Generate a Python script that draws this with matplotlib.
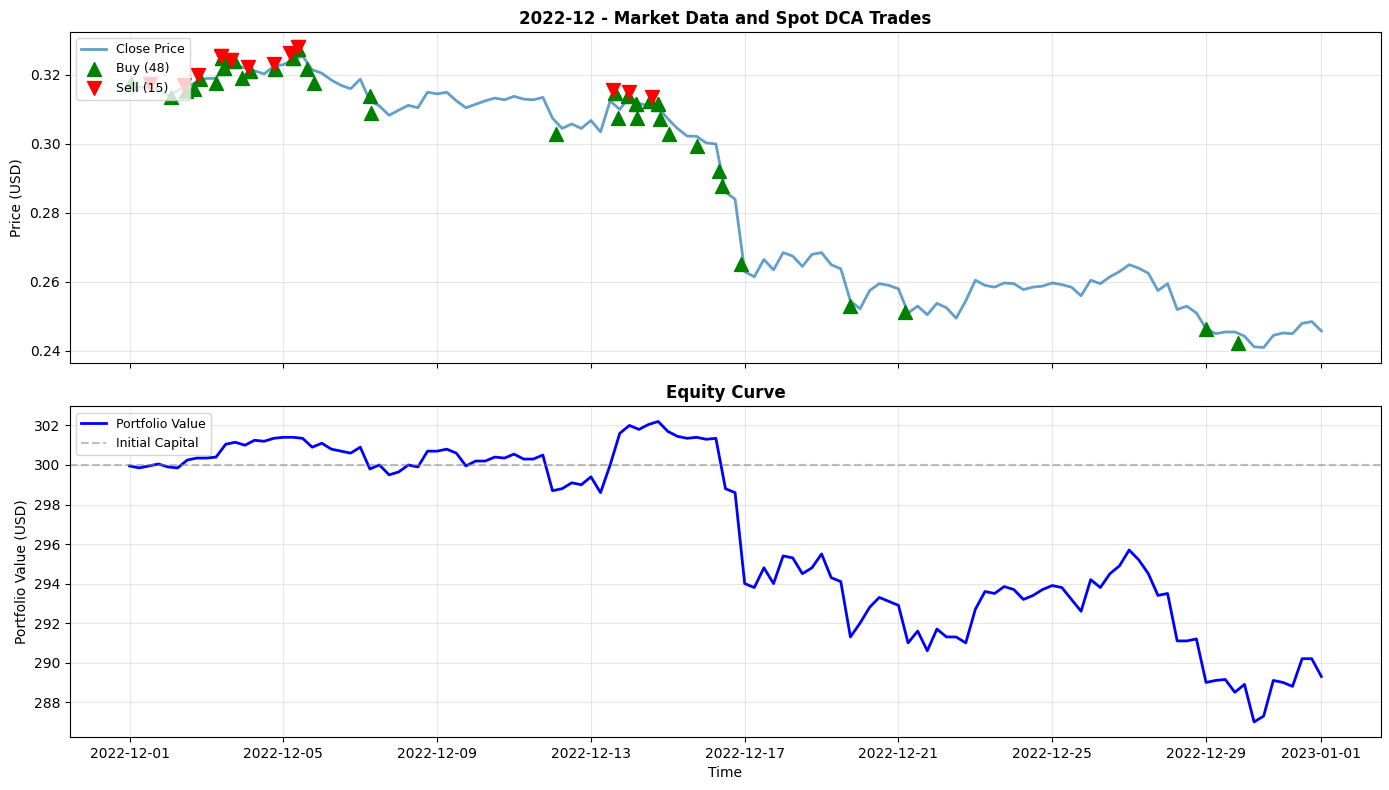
import numpy as np
import pandas as pd
import matplotlib
matplotlib.use('Agg')
import matplotlib.pyplot as plt
import matplotlib.dates as mdates

# close price, sampled every 6 hours from 2022-12-01 00:00
close_price = [
    0.3170, 0.3165, 0.3163, 0.3160, 0.3140, 0.3155, 0.3165, 0.3180, 0.3190, 0.3190,
    0.3240, 0.3230, 0.3220, 0.3212, 0.3203, 0.3225, 0.3230, 0.3245, 0.3255, 0.3215,
    0.3205, 0.3185, 0.3170, 0.3160, 0.3188, 0.3125, 0.3110, 0.3083, 0.3098, 0.3112,
    0.3105, 0.3150, 0.3145, 0.3150, 0.3125, 0.3105, 0.3115, 0.3125, 0.3133, 0.3128,
    0.3138, 0.3130, 0.3128, 0.3135, 0.3075, 0.3045, 0.3058, 0.3045, 0.3068, 0.3035,
    0.3125, 0.3100, 0.3137, 0.3118, 0.3110, 0.3105, 0.3073, 0.3045, 0.3023, 0.3022,
    0.3003, 0.3000, 0.2860, 0.2840, 0.2630, 0.2615, 0.2665, 0.2635, 0.2685, 0.2675,
    0.2645, 0.2680, 0.2685, 0.2650, 0.2638, 0.2545, 0.2522, 0.2575, 0.2595, 0.2590,
    0.2580, 0.2510, 0.2530, 0.2505, 0.2538, 0.2525, 0.2495, 0.2545, 0.2605, 0.2590,
    0.2585, 0.2597, 0.2595, 0.2578, 0.2585, 0.2588, 0.2597, 0.2592, 0.2585, 0.2560,
    0.2605, 0.2595, 0.2615, 0.2630, 0.2650, 0.2640, 0.2625, 0.2575, 0.2595, 0.2520,
    0.2530, 0.2510, 0.2465, 0.2450, 0.2455, 0.2455, 0.2443, 0.2412, 0.2410, 0.2445,
    0.2452, 0.2450, 0.2480, 0.2485, 0.2458,
]

# portfolio value, same 6-hour grid
portfolio_value = [
    299.95, 299.85, 299.95, 300.05, 299.90, 299.85, 300.25, 300.35, 300.35, 300.40,
    301.05, 301.15, 301.00, 301.25, 301.20, 301.35, 301.40, 301.40, 301.35, 300.90,
    301.10, 300.80, 300.70, 300.60, 300.90, 299.80, 300.00, 299.50, 299.65, 300.00,
    299.90, 300.70, 300.70, 300.80, 300.60, 299.95, 300.20, 300.20, 300.40, 300.35,
    300.55, 300.30, 300.30, 300.50, 298.70, 298.80, 299.10, 299.00, 299.40, 298.60,
    300.00, 301.60, 302.00, 301.80, 302.05, 302.20, 301.70, 301.45, 301.35, 301.40,
    301.30, 301.35, 298.80, 298.60, 294.00, 293.80, 294.80, 294.00, 295.40, 295.30,
    294.50, 294.80, 295.50, 294.30, 294.10, 291.30, 292.00, 292.80, 293.30, 293.10,
    292.90, 291.00, 291.60, 290.60, 291.70, 291.30, 291.30, 291.00, 292.70, 293.60,
    293.50, 293.85, 293.70, 293.20, 293.40, 293.70, 293.90, 293.80, 293.20, 292.60,
    294.20, 293.80, 294.50, 294.90, 295.70, 295.20, 294.50, 293.40, 293.50, 291.10,
    291.10, 291.20, 289.00, 289.10, 289.15, 288.50, 288.90, 287.00, 287.30, 289.10,
    289.00, 288.80, 290.20, 290.20, 289.30,
]

buy_times = [
    '2022-12-01 01:00', '2022-12-02 02:00', '2022-12-02 11:00', '2022-12-02 16:00',
    '2022-12-02 20:00', '2022-12-03 06:00', '2022-12-03 10:00', '2022-12-03 11:00',
    '2022-12-03 17:00', '2022-12-03 22:00', '2022-12-04 03:00', '2022-12-04 19:00',
    '2022-12-05 06:00', '2022-12-05 09:00', '2022-12-05 15:00', '2022-12-05 19:00',
    '2022-12-07 06:00', '2022-12-07 07:00', '2022-12-12 02:00', '2022-12-13 15:00',
    '2022-12-13 17:00', '2022-12-13 23:00', '2022-12-14 04:00', '2022-12-14 05:00',
    '2022-12-14 13:00', '2022-12-14 18:00', '2022-12-14 19:00', '2022-12-15 01:00',
    '2022-12-15 18:00', '2022-12-16 08:00', '2022-12-16 10:00', '2022-12-16 22:00',
    '2022-12-19 18:00', '2022-12-21 04:00', '2022-12-29 00:00', '2022-12-29 20:00',
    '2022-12-03 10:00', '2022-12-03 11:00', '2022-12-03 17:00', '2022-12-04 03:00',
    '2022-12-04 19:00', '2022-12-05 06:00', '2022-12-05 09:00', '2022-12-13 15:00',
    '2022-12-13 23:00', '2022-12-14 04:00', '2022-12-14 13:00', '2022-12-14 18:00',
]
buy_prices = [
    0.3177, 0.3136, 0.3154, 0.3159, 0.3188, 0.3177, 0.3249, 0.3220,
    0.3241, 0.3191, 0.3212, 0.3217, 0.3249, 0.3275, 0.3217, 0.3177,
    0.3139, 0.3090, 0.3029, 0.3148, 0.3075, 0.3139, 0.3116, 0.3075,
    0.3125, 0.3116, 0.3072, 0.3029, 0.2994, 0.2922, 0.2878, 0.2652,
    0.2530, 0.2513, 0.2464, 0.2423,
    0.3249, 0.3220, 0.3241, 0.3212, 0.3217, 0.3249, 0.3275, 0.3148,
    0.3139, 0.3116, 0.3125, 0.3116,
]

sell_times = [
    '2022-12-01 13:00', '2022-12-02 10:00', '2022-12-02 19:00', '2022-12-03 09:00',
    '2022-12-03 15:00', '2022-12-04 02:00', '2022-12-04 18:00', '2022-12-05 04:00',
    '2022-12-05 09:00', '2022-12-13 14:00', '2022-12-14 00:00', '2022-12-14 14:00',
    '2022-12-03 09:00', '2022-12-03 15:00', '2022-12-05 09:00',
]
sell_prices = [
    0.3174, 0.3171, 0.3200, 0.3255, 0.3243, 0.3223, 0.3232, 0.3264,
    0.3281, 0.3157, 0.3151, 0.3136, 0.3255, 0.3243, 0.3281,
]

initial_capital = 300

times = pd.date_range('2022-12-01', periods=len(close_price), freq='6h')
buy_dt = pd.to_datetime(buy_times)
sell_dt = pd.to_datetime(sell_times)

fig, (ax1, ax2) = plt.subplots(2, 1, figsize=(13.89, 7.9), sharex=True)

ax1.plot(times, close_price, label='Close Price', linewidth=2, alpha=0.7)
ax1.scatter(buy_dt, buy_prices, marker='^', color='green', s=100,
            label=f'Buy ({len(buy_times)})', zorder=5)
ax1.scatter(sell_dt, sell_prices, marker='v', color='red', s=100,
            label=f'Sell ({len(sell_times)})', zorder=5)
ax1.set_ylabel('Price (USD)')
ax1.set_title('2022-12 - Market Data and Spot DCA Trades', fontsize=12, fontweight='bold')
ax1.legend(loc='upper left', fontsize=9)
ax1.grid(True, alpha=0.3)

ax2.plot(times, portfolio_value, color='blue', linewidth=2, label='Portfolio Value')
ax2.axhline(initial_capital, color='gray', linestyle='--', alpha=0.5, label='Initial Capital')
ax2.set_ylabel('Portfolio Value (USD)')
ax2.set_xlabel('Time')
ax2.set_title('Equity Curve', fontsize=12, fontweight='bold')
ax2.legend(loc='upper left', fontsize=9)
ax2.grid(True, alpha=0.3)

ax2.xaxis.set_major_locator(mdates.DayLocator(bymonthday=[1, 5, 9, 13, 17, 21, 25, 29]))
ax2.xaxis.set_major_formatter(mdates.DateFormatter('%Y-%m-%d'))

fig.subplots_adjust(left=0.0504, right=0.9942, top=0.9595, bottom=0.0671, hspace=0.133)
plt.savefig('out.png', dpi=100)
